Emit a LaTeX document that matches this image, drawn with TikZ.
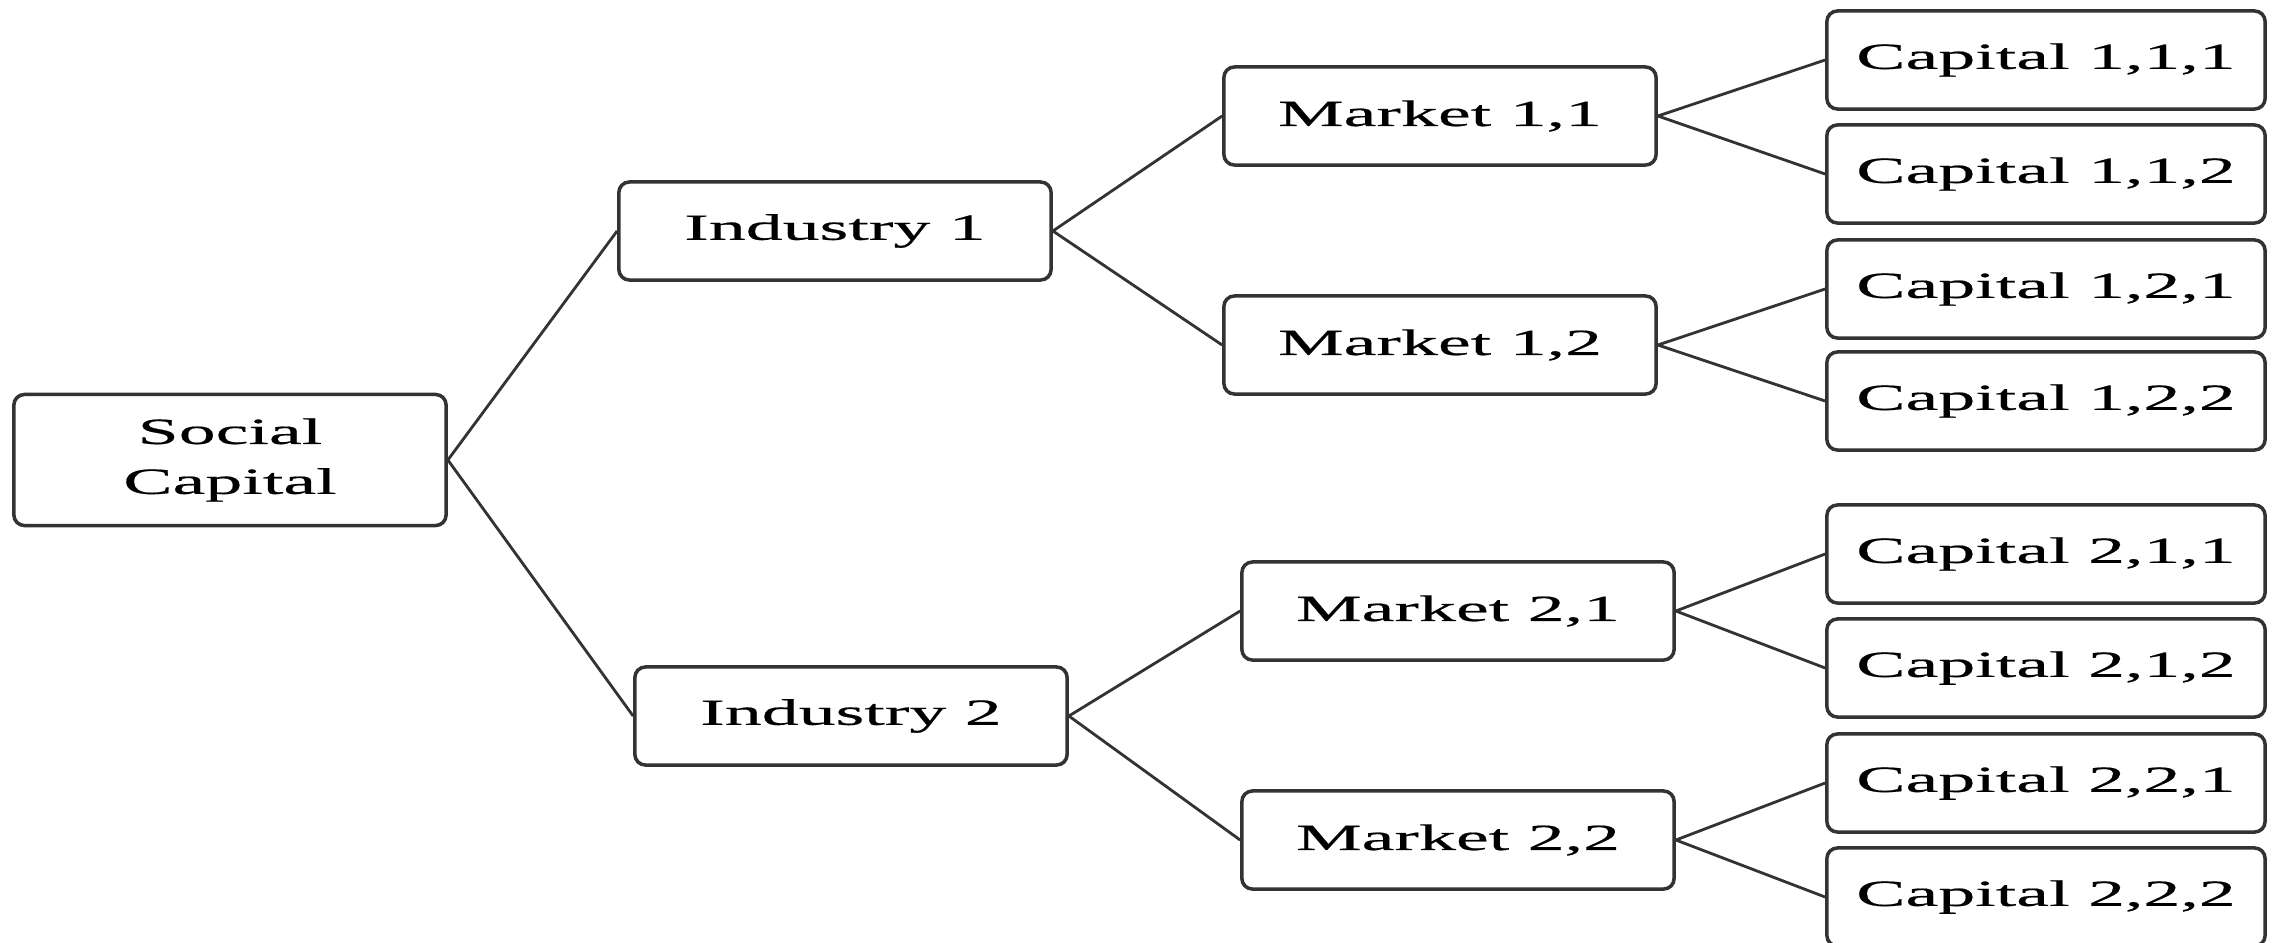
\documentclass[tikz,border=0pt]{standalone}
\usepackage{fontspec}
\setmainfont{Liberation Serif}[FakeStretch=2.0, FakeBold=0.5]
\begin{document}
\begin{tikzpicture}[x=0.01cm, y=-0.01cm, font=\fontsize{10.5}{14.2}\selectfont,
	box/.style={rectangle, draw=black!80, rounded corners=3pt, line width=1pt, minimum width=4.32cm, minimum height=0.98cm, inner sep=0pt, align=center},
	capbox/.style={box, minimum width=4.38cm},
	link/.style={draw=black!80, line width=0.8pt}]
			
			\useasboundingbox (0,0) rectangle (2272,942);
			
			% Nodes
			\node[box, minimum height=1.31cm] (sc) at (230,460) {Social\\Capital};
			
			\node[box] (i1) at (835,231) {Industry 1};
			\node[box] (i2) at (851,716) {Industry 2};
			
			\node[box] (m11) at (1440,116) {Market 1,1};
			\node[box] (m12) at (1440,345) {Market 1,2};
			\node[box] (m21) at (1458,611) {Market 2,1};
			\node[box] (m22) at (1458,840) {Market 2,2};
			
			\node[capbox] (c111) at (2046,60) {Capital 1,1,1};
			\node[capbox] (c112) at (2046,174) {Capital 1,1,2};
			\node[capbox] (c121) at (2046,289) {Capital 1,2,1};
			\node[capbox] (c122) at (2046,401) {Capital 1,2,2};
			\node[capbox] (c211) at (2046,554) {Capital 2,1,1};
			\node[capbox] (c212) at (2046,668) {Capital 2,1,2};
			\node[capbox] (c221) at (2046,783) {Capital 2,2,1};
			\node[capbox] (c222) at (2046,897) {Capital 2,2,2};
			% Edges
			\draw[link] (sc.east) -- (i1.west);
			\draw[link] (sc.east) -- (i2.west);
			
			\draw[link] (i1.east) -- (m11.west);
			\draw[link] (i1.east) -- (m12.west);
			\draw[link] (i2.east) -- (m21.west);
			\draw[link] (i2.east) -- (m22.west);
			
			\draw[link] (m11.east) -- (c111.west);
			\draw[link] (m11.east) -- (c112.west);
			\draw[link] (m12.east) -- (c121.west);
			\draw[link] (m12.east) -- (c122.west);
			
			\draw[link] (m21.east) -- (c211.west);
			\draw[link] (m21.east) -- (c212.west);
			\draw[link] (m22.east) -- (c221.west);
			\draw[link] (m22.east) -- (c222.west);
			
		\end{tikzpicture}
\end{document}
